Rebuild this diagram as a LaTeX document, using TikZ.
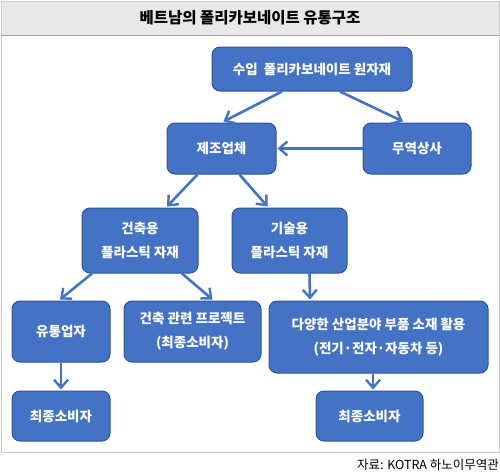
\documentclass[tikz,border=0pt]{standalone}
\usepackage{fontspec}
\setmainfont{Noto Sans CJK KR}
\usetikzlibrary{calc,arrows.meta}
\definecolor{boxblue}{HTML}{4472C4}
\definecolor{boxline}{HTML}{2F5597}
\definecolor{band}{HTML}{E8E8E8}
\definecolor{frame}{HTML}{C9C9C9}
\begin{document}
\begin{tikzpicture}[x=1pt,y=-1pt,
box/.style={draw=boxline, line width=1pt, fill=boxblue, rounded corners=8pt, text=white,
  font=\bfseries\fontsize{13.5}{24}\selectfont, align=center, inner sep=0pt},
arr/.style={draw=boxblue, line width=2.6pt, -{Straight Barb[length=8pt,width=14pt,line width=2.4pt]}}]
\useasboundingbox (0,0) rectangle (500,474);
% frame and title band
\fill[band] (1,1) rectangle (499,35);
\draw[frame] (1,1) rectangle (499,452);
\draw[frame!80!black] (1,35) -- (499,35);
\node (title) at (250,18) {\fontsize{15.5}{18}\selectfont\bfseries 베트남의 폴리카보네이트 유통구조};
\node[anchor=east, inner sep=0pt] (src) at (499,465) {\fontsize{12.5}{14}\selectfont 자료: KOTRA 하노이무역관};
% boxes
\node[box, minimum width=200, minimum height=44] (imp) at (312,69) {수입~~폴리카보네이트 원자재};
\node[box, minimum width=109, minimum height=51] (mfr) at (221.5,148.5) {제조업체};
\node[box, minimum width=108, minimum height=51] (trd) at (417,148.5) {무역상사};
\node[box, minimum width=116, minimum height=65] (arch) at (140,240.5) {건축용\\플라스틱 자재};
\node[box, minimum width=115, minimum height=65] (tech) at (289.5,240.5) {기술용\\플라스틱 자재};
\node[box, minimum width=98, minimum height=61] (dist) at (61,331.5) {유통업자};
\node[box, minimum width=137, minimum height=61] (proj) at (192.5,331.5) {건축 관련 프로젝트\\(최종소비자)};
\node[box, minimum width=219, minimum height=72] (ind) at (378.5,337) {다양한 산업분야 부품 소재 활용\\(전기·전자·자동차 등)};
\node[box, minimum width=98, minimum height=50] (cons1) at (61,416) {최종소비자};
\node[box, minimum width=107, minimum height=50] (cons2) at (369.5,416) {최종소비자};
% arrows
\foreach \a/\da/\b/\db in {imp/-30/mfr/2, imp/28/trd/-14, mfr/-24/arch/27, mfr/18/tech/-22,
  arch/-48/dist/-1, arch/42/proj/20, tech/20/ind/-68.5, dist/0/cons1/0, ind/-5.5/cons2/3.5}
{
    \draw[arr] ($(\a.south)+(\da,0)$) -- ($(\b.north)+(\db,-1)$);
}
\draw[arr] (trd.west) -- ($(mfr.east)+(1,0)$);
\end{tikzpicture}
\end{document}
